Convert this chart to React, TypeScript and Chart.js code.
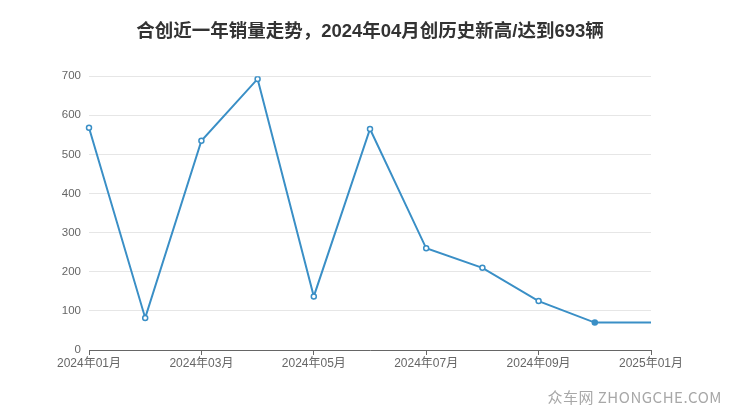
import { useEffect, useRef } from "react";
import { Chart, registerables } from "chart.js";

Chart.register(...registerables);

const TITLE = "合创近一年销量走势，2024年04月创历史新高/达到693辆";
const months = [
  "2024年01月",
  "2024年02月",
  "2024年03月",
  "2024年04月",
  "2024年05月",
  "2024年06月",
  "2024年07月",
  "2024年08月",
  "2024年09月",
  "2024年10月",
  "2025年01月",
];
const sales = [568, 82, 535, 693, 137, 565, 260, 210, 125, 70, 70];

const FONT = '"Liberation Sans", Arial, "Noto Sans CJK SC", sans-serif';
const LINE = "#3a8fc6";

export default function App() {
  const canvasRef = useRef<HTMLCanvasElement>(null);

  useEffect(() => {
    if (!canvasRef.current) return;
    const last = sales.length - 1;
    const chart = new Chart(canvasRef.current, {
      type: "line",
      data: {
        labels: months,
        datasets: [
          {
            label: "销量",
            data: sales,
            borderColor: LINE,
            borderWidth: 2,
            tension: 0,
            pointRadius: sales.map((_, i) => (i === last ? 0 : 2.5)),
            pointBorderWidth: 1.5,
            pointBorderColor: LINE,
            pointBackgroundColor: sales.map((_, i) => (i === last - 1 ? LINE : "#ffffff")),
          },
        ],
      },
      options: {
        animation: false,
        responsive: true,
        maintainAspectRatio: false,
        layout: { padding: 0 },
        plugins: {
          legend: { display: false },
          tooltip: { enabled: false },
          title: {
            display: true,
            text: TITLE,
            color: "#333333",
            font: { family: FONT, size: 18.5, weight: "bold" },
            padding: { top: 21, bottom: 33 },
          },
        },
        scales: {
          x: {
            offset: false,
            grid: {
              drawOnChartArea: false,
              drawTicks: true,
              tickLength: 5,
              color: "#666666",
            },
            border: { color: "#666666", width: 1 },
            ticks: {
              autoSkip: false,
              maxRotation: 0,
              color: "#666666",
              padding: 1,
              font: { family: FONT, size: 12 },
              callback: (_v, i) => (i % 2 === 0 ? months[i] : null),
            },
            afterFit: (s) => {
              s.height = 67;
            },
          },
          y: {
            min: 0,
            max: 700,
            ticks: {
              stepSize: 100,
              color: "#666666",
              padding: 8,
              font: { family: FONT, size: 11.5 },
            },
            grid: { color: "#e6e6e6", drawTicks: false },
            border: { display: false },
            afterFit: (s) => {
              s.width = 89;
            },
          },
          yRight: {
            position: "right",
            min: 0,
            max: 700,
            ticks: { display: false },
            grid: { drawOnChartArea: false, drawTicks: false },
            border: { display: false },
            afterFit: (s) => {
              s.width = 89;
            },
          },
        },
      },
    });
    return () => chart.destroy();
  }, []);

  return (
    <div style={{ position: "absolute", left: 0, top: 0, width: 740, height: 417, background: "#ffffff" }}>
      <canvas ref={canvasRef} />
      <div
        style={{
          position: "absolute",
          right: 18,
          bottom: 10,
          fontFamily: '"Noto Sans CJK SC", "Liberation Sans", sans-serif',
          fontSize: 15,
          color: "#a8a8a8",
          letterSpacing: "0.5px",
        }}
      >
        众车网 ZHONGCHE.COM
      </div>
    </div>
  );
}
